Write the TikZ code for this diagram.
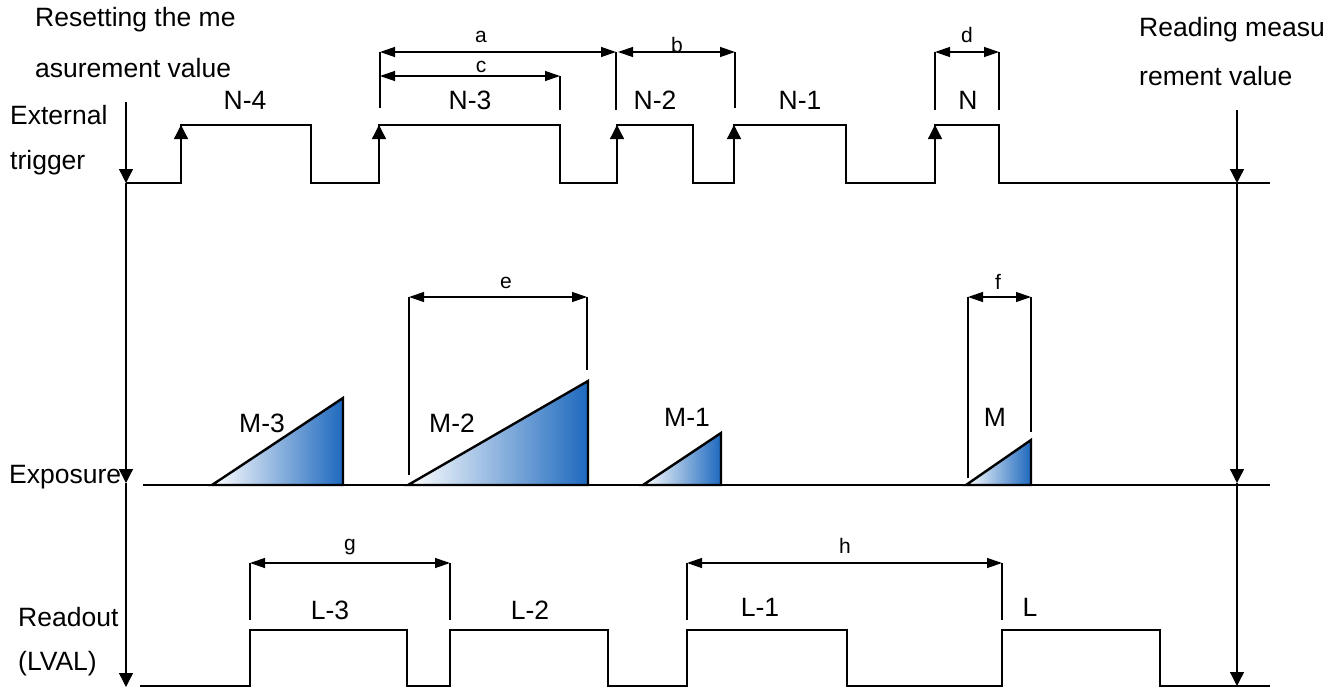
\documentclass[tikz,border=0pt]{standalone}
\usepackage{fontspec}
\setmainfont{Liberation Sans}
\usetikzlibrary{arrows.meta}
\definecolor{expblue}{RGB}{30,105,190}
\definecolor{expmid}{RGB}{165,180,218}
\begin{document}
\begin{tikzpicture}[x=1pt,y=-1pt,
  wave/.style={line width=1.3pt},
  arr/.style={line width=1.3pt,-{Triangle[length=14pt,width=14pt]}},
  dimline/.style={line width=1.3pt,{Triangle[length=15pt,width=10pt]}-{Triangle[length=15pt,width=10pt]}},
  extline/.style={line width=1.1pt},
  big/.style={font=\fontsize{26.5}{31}\selectfont, inner sep=0pt},
  lbl/.style={font=\fontsize{21}{25}\selectfont, inner sep=0pt},
  tri/.style={draw=black, line width=2.4pt, line join=miter, left color=white, middle color=expmid, right color=expblue}
]
\useasboundingbox (0,0) rectangle (1341,688);

% texts
\node[big,anchor=west] (t1) at (35,20) {Resetting the me};
\node[big,anchor=west] (t2) at (35,68) {asurement value};
\node[big,anchor=west] (t3) at (10,115) {External};
\node[big,anchor=west] (t4) at (10,163) {trigger};
\node[big,anchor=west] (t5) at (9,477) {Exposure};
\node[big,anchor=west] (t6) at (18,617) {Readout};
\node[big,anchor=west] (t7) at (18,664) {(LVAL)};
\node[big,anchor=west] (t8) at (1139,30) {Reading measu};
\node[big,anchor=west] (t9) at (1139,76) {rement value};

% axes
\draw[arr] (126,102) -- (126,183);
\draw[arr] (126,183) -- (126,483);
\draw[arr] (126,483) -- (126,687);
\draw[arr] (1237,110) -- (1237,183);
\draw[arr] (1237,183) -- (1237,483);
\draw[arr] (1237,483) -- (1237,686);

% trigger
\draw[wave] (126,183) -| (181,125) -| (311,183) -| (379,125) -| (560,183) -| (617,125) -| (693,183) -| (734,125) -| (846,183) -| (935,125) -| (999,183) -- (1270,183);
\foreach \x in {181,379,617,734,935}{\draw[arr] (\x,183) -- (\x,125);}
\node[big] (n4) at (245,100) {N-4};
\node[big] (n3) at (470,100) {N-3};
\node[big] (n2) at (655,100) {N-2};
\node[big] (n1) at (800,100) {N-1};
\node[big] (n0) at (968,100) {N};

% trigger dimensions
\draw[extline] (380,52) -- (380,108);
\draw[extline] (616,52) -- (616,110);
\draw[extline] (560,76) -- (560,110);
\draw[extline] (735,52) -- (735,108);
\draw[extline] (935,52) -- (935,110);
\draw[extline] (999,52) -- (999,110);
\draw[dimline] (380,52) -- (616,52);
\draw[dimline] (380,76) -- (560,76);
\draw[dimline] (618,52) -- (735,52);
\draw[dimline] (935,52) -- (999,52);
\node[lbl] (la) at (481,37) {a};
\node[lbl] (lc) at (481,67) {c};
\node[lbl] (lb) at (677,45) {b};
\node[lbl] (ld) at (967,35) {d};

% exposure
\draw[wave] (143,485) -- (1270,485);
\path[tri] (212,485) -- (343,485) -- (343,398) -- cycle;
\path[tri] (408,485) -- (588,485) -- (588,381) -- cycle;
\path[tri] (643,485) -- (721,485) -- (721,433) -- cycle;
\path[tri] (966,485) -- (1031,485) -- (1031,440) -- cycle;
\node[big] (m3) at (262,423) {M-3};
\node[big] (m2) at (452,423) {M-2};
\node[big] (m1) at (687,417) {M-1};
\node[big] (m0) at (995,417) {M};
\draw[extline] (409,297) -- (409,475);
\draw[extline] (587,297) -- (587,370);
\draw[extline] (968,297) -- (968,478);
\draw[extline] (1031,297) -- (1031,432);
\draw[dimline] (409,297) -- (587,297);
\draw[dimline] (968,297) -- (1031,297);
\node[lbl] (le) at (506,283) {e};
\node[lbl] (lf) at (998,282) {f};

% readout
\draw[wave] (140,686) -| (250,630) -| (407,686) -| (450,630) -| (608,686) -| (687,630) -| (847,686) -| (1002,630) -| (1160,686) -- (1270,686);
\node[big] (l3) at (330,610) {L-3};
\node[big] (l2) at (530,610) {L-2};
\node[big] (l1) at (760,607) {L-1};
\node[big] (l0) at (1030,607) {L};
\draw[extline] (250,563) -- (250,620);
\draw[extline] (450,563) -- (450,620);
\draw[extline] (687,563) -- (687,620);
\draw[extline] (1002,563) -- (1002,620);
\draw[dimline] (250,563) -- (450,563);
\draw[dimline] (687,563) -- (1002,563);
\node[lbl] (lg) at (350,547) {g};
\node[lbl] (lh) at (845,546) {h};
\end{tikzpicture}
\end{document}
